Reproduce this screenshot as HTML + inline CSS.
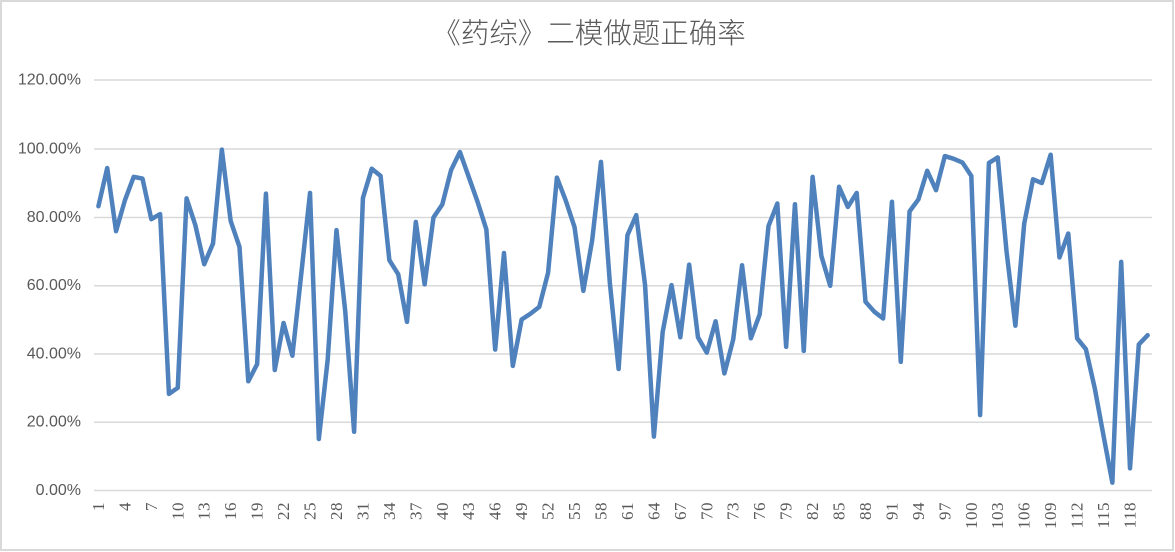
<!DOCTYPE html>
<html>
<head>
<meta charset="utf-8">
<style>
  html, body { margin: 0; padding: 0; background: #fff; }
  body { width: 1175px; height: 552px; overflow: hidden; }
  svg { display: block; }
</style>
</head>
<body>
<svg width="1175" height="552" viewBox="0 0 1175 552" xmlns="http://www.w3.org/2000/svg">
  <rect x="0" y="0" width="1175" height="552" fill="#ffffff"/>
  <rect x="1" y="1" width="1172" height="549" fill="none" stroke="#d9d9d9" stroke-width="2"/>

  <text x="589" y="34" text-anchor="middle" dominant-baseline="central" font-family="'Liberation Sans','Noto Sans CJK SC',sans-serif" font-size="28.5" font-weight="300" fill="#595959">《药综》二模做题正确率</text>

  <g stroke="#d9d9d9" stroke-width="1.5">
    <line x1="94" y1="80" x2="1152" y2="80"/>
    <line x1="94" y1="149" x2="1152" y2="149"/>
    <line x1="94" y1="217.5" x2="1152" y2="217.5"/>
    <line x1="94" y1="285.7" x2="1152" y2="285.7"/>
    <line x1="94" y1="354" x2="1152" y2="354"/>
    <line x1="94" y1="422.2" x2="1152" y2="422.2"/>
    <line x1="94" y1="490.5" x2="1152" y2="490.5"/>
  </g>

  <g font-family="'Liberation Sans',sans-serif" font-size="16" fill="#595959" text-anchor="end" dominant-baseline="central">
    <text x="81" y="80">120.00%</text>
    <text x="81" y="149">100.00%</text>
    <text x="81" y="217.5">80.00%</text>
    <text x="81" y="285.7">60.00%</text>
    <text x="81" y="354">40.00%</text>
    <text x="81" y="422.2">20.00%</text>
    <text x="81" y="490.5">0.00%</text>
  </g>

  <g font-family="'Liberation Serif',serif" font-size="17" fill="#595959" text-anchor="end" dominant-baseline="central" letter-spacing="0.5">
    <text transform="translate(98.41,502) rotate(-90)">1</text>
    <text transform="translate(124.86,502) rotate(-90)">4</text>
    <text transform="translate(151.31,502) rotate(-90)">7</text>
    <text transform="translate(177.76,502) rotate(-90)">10</text>
    <text transform="translate(204.21,502) rotate(-90)">13</text>
    <text transform="translate(230.66,502) rotate(-90)">16</text>
    <text transform="translate(257.11,502) rotate(-90)">19</text>
    <text transform="translate(283.57,502) rotate(-90)">22</text>
    <text transform="translate(310.02,502) rotate(-90)">25</text>
    <text transform="translate(336.47,502) rotate(-90)">28</text>
    <text transform="translate(362.92,502) rotate(-90)">31</text>
    <text transform="translate(389.37,502) rotate(-90)">34</text>
    <text transform="translate(415.82,502) rotate(-90)">37</text>
    <text transform="translate(442.27,502) rotate(-90)">40</text>
    <text transform="translate(468.72,502) rotate(-90)">43</text>
    <text transform="translate(495.17,502) rotate(-90)">46</text>
    <text transform="translate(521.62,502) rotate(-90)">49</text>
    <text transform="translate(548.08,502) rotate(-90)">52</text>
    <text transform="translate(574.53,502) rotate(-90)">55</text>
    <text transform="translate(600.98,502) rotate(-90)">58</text>
    <text transform="translate(627.43,502) rotate(-90)">61</text>
    <text transform="translate(653.88,502) rotate(-90)">64</text>
    <text transform="translate(680.33,502) rotate(-90)">67</text>
    <text transform="translate(706.78,502) rotate(-90)">70</text>
    <text transform="translate(733.23,502) rotate(-90)">73</text>
    <text transform="translate(759.68,502) rotate(-90)">76</text>
    <text transform="translate(786.13,502) rotate(-90)">79</text>
    <text transform="translate(812.59,502) rotate(-90)">82</text>
    <text transform="translate(839.04,502) rotate(-90)">85</text>
    <text transform="translate(865.49,502) rotate(-90)">88</text>
    <text transform="translate(891.94,502) rotate(-90)">91</text>
    <text transform="translate(918.39,502) rotate(-90)">94</text>
    <text transform="translate(944.84,502) rotate(-90)">97</text>
    <text transform="translate(971.29,502) rotate(-90)">100</text>
    <text transform="translate(997.74,502) rotate(-90)">103</text>
    <text transform="translate(1024.19,502) rotate(-90)">106</text>
    <text transform="translate(1050.64,502) rotate(-90)">109</text>
    <text transform="translate(1077.10,502) rotate(-90)">112</text>
    <text transform="translate(1103.55,502) rotate(-90)">115</text>
    <text transform="translate(1130.00,502) rotate(-90)">118</text>
  </g>

  <g transform="matrix(8.817 0 0 -3.4125 89.5915 490.5)">
    <polyline fill="none" stroke="#4f81bd" stroke-width="4.5" stroke-linejoin="round" stroke-linecap="round" vector-effect="non-scaling-stroke"
      points="1,83.3 2,94.5 3,76 4,85 5,91.9 6,91.4 7,79.5 8,81 9,28.3 10,30.1 11,85.6 12,77.7 13,66.3 14,72.4 15,99.9 16,79 17,71.4 18,32 19,37 20,87 21,35.3 22,49.1 23,39.5 24,63.3 25,87.2 26,15.1 27,38.2 28,76.3 29,52.4 30,17.2 31,85.7 32,94.3 33,92.2 34,67.5 35,63.4 36,49.4 37,78.7 38,60.4 39,80 40,83.8 41,93.9 42,99.2 43,91.9 44,84.6 45,76.5 46,41.3 47,69.6 48,36.5 49,50.1 50,51.8 51,53.8 52,63.8 53,91.7 54,85 55,77.2 56,58.5 57,73.3 58,96.3 59,61 60,35.6 61,74.8 62,80.7 63,60.2 64,15.8 65,46.5 66,60.2 67,44.9 68,66.2 69,44.9 70,40.4 71,49.6 72,34.3 73,44.3 74,66 75,44.6 76,51.6 77,77.5 78,84.1 79,42.1 80,83.9 81,40.9 82,91.9 83,68.7 84,60 85,89 86,83.1 87,87.2 88,55.3 89,52.4 90,50.4 91,84.6 92,37.7 93,81.8 94,85.3 95,93.7 96,88 97,98 98,97.2 99,96.1 100,92.2 101,22.1 102,96 103,97.6 104,70 105,48.3 106,78.2 107,91.2 108,90.1 109,98.4 110,68.3 111,75.3 112,44.6 113,41.4 114,30 115,16 116,2.3 117,67 118,6.5 119,42.8 120,45.5"/>
  </g>
</svg>
</body>
</html>
